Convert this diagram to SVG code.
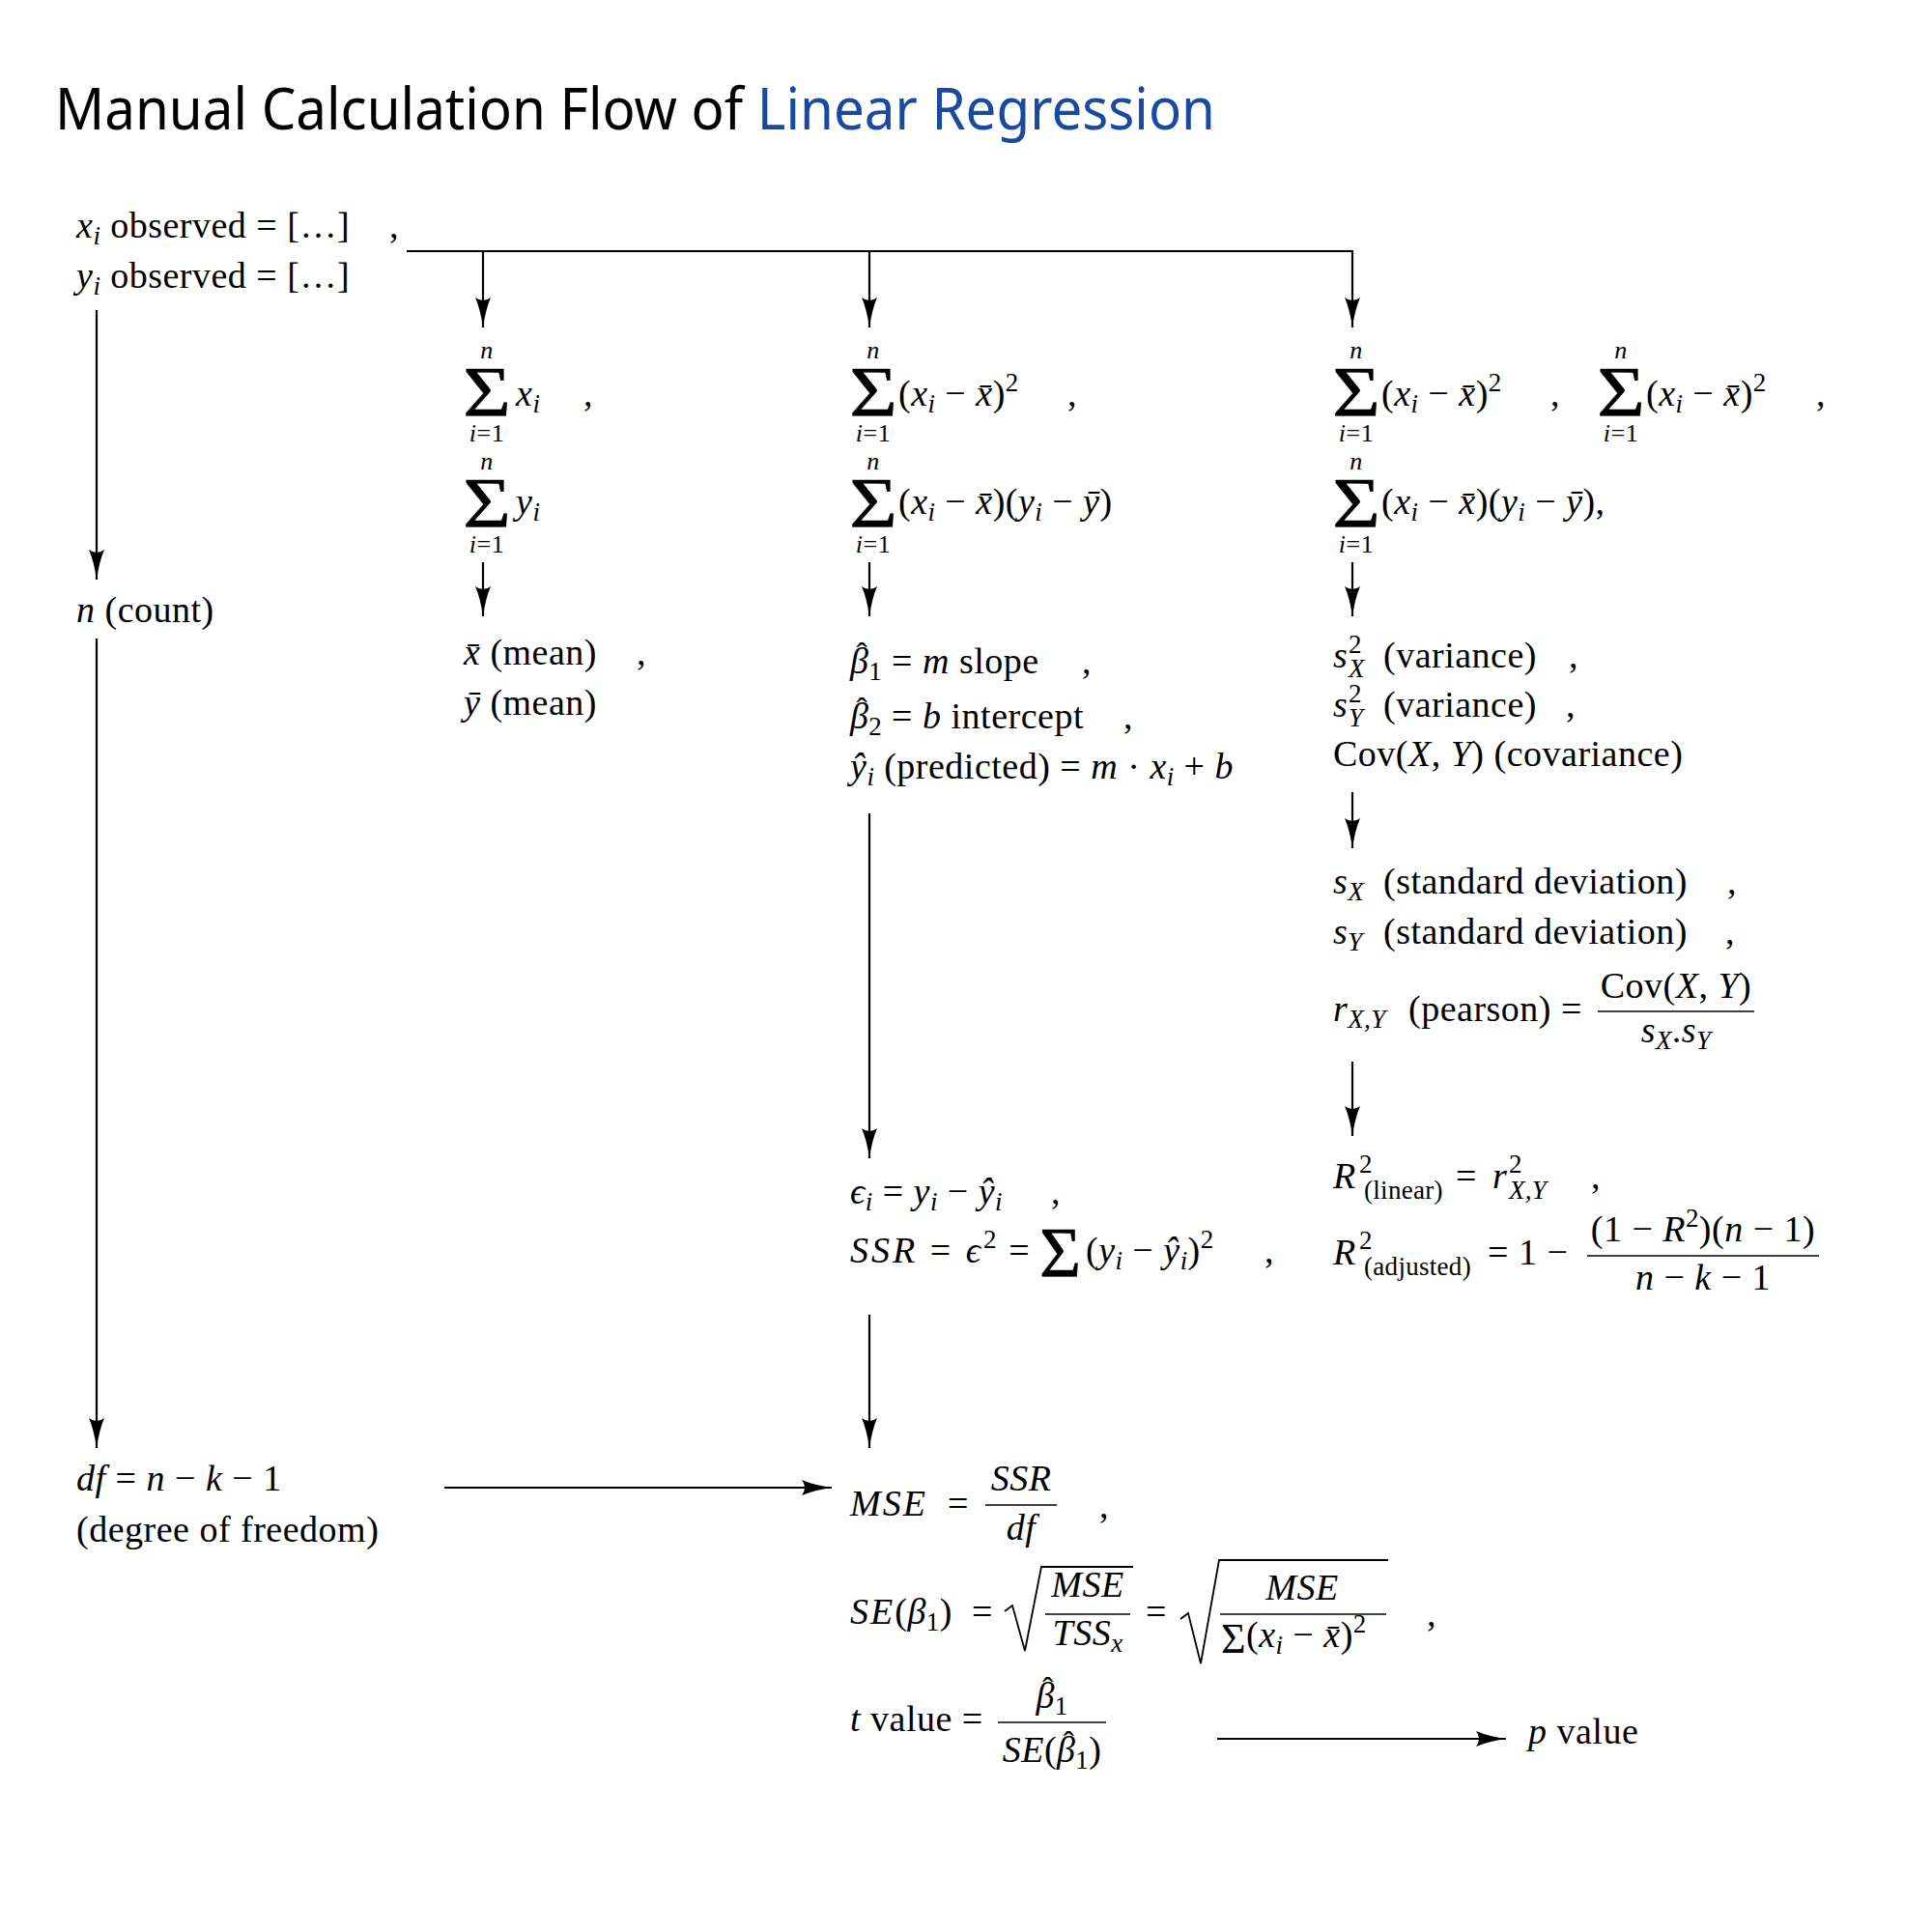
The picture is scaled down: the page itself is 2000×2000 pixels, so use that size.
<svg xmlns="http://www.w3.org/2000/svg" width="2000" height="2000" viewBox="0 0 2000 2000">
<defs>
<style>
.bg{fill:#fff}
.t{font-family:"Liberation Serif","DejaVu Serif",serif;font-size:38px;letter-spacing:0.5px;fill:#000}
.mi{font-style:italic}
.sb{font-size:27px;letter-spacing:0.3px}
.hc{font-size:34px;font-style:normal}
.lim{font-family:"Liberation Serif","DejaVu Serif",serif;font-size:26px;letter-spacing:0.5px;fill:#000}
.big{font-family:"Liberation Serif","DejaVu Serif",serif;font-size:74px;fill:#000;stroke:#000;stroke-width:0.6}
.title{font-family:"Noto Sans","Open Sans",sans-serif;font-size:60px;fill:#000}
.blue{fill:#1a4aa0}
.ln{stroke:#000;stroke-width:2.2;fill:none}
.bar{stroke:#000;stroke-width:1.6;fill:none}
.rad{stroke:#000;stroke-width:1.8;fill:none;stroke-linejoin:miter}
</style>
<marker id="ah" markerWidth="34" markerHeight="20" refX="31" refY="10" orient="auto" markerUnits="userSpaceOnUse">
<path d="M0,2 Q13,7.5 31,10 Q13,12.5 0,18 Q6,10 0,2Z" fill="#000"/>
</marker>
</defs>
<rect class="bg" x="0" y="0" width="2000" height="2000"/>

<g id="title">
<text class="title" x="57" y="134" textLength="1201" lengthAdjust="spacingAndGlyphs">Manual Calculation Flow of <tspan class="blue">Linear Regression</tspan></text>
</g>

<g id="connectors">
<path class="ln" d="M421,260 H1400 V339" marker-end="url(#ah)"/>
<path class="ln" d="M500,260 V339" marker-end="url(#ah)"/>
<path class="ln" d="M900,260 V339" marker-end="url(#ah)"/>
<path class="ln" d="M100,321 V600" marker-end="url(#ah)"/>
<path class="ln" d="M100,661 V1499" marker-end="url(#ah)"/>
<path class="ln" d="M500,582 V638" marker-end="url(#ah)"/>
<path class="ln" d="M900,582 V638" marker-end="url(#ah)"/>
<path class="ln" d="M1400,582 V638" marker-end="url(#ah)"/>
<path class="ln" d="M1400,820 V878" marker-end="url(#ah)"/>
<path class="ln" d="M1400,1099 V1176" marker-end="url(#ah)"/>
<path class="ln" d="M900,842 V1199" marker-end="url(#ah)"/>
<path class="ln" d="M900,1361 V1499" marker-end="url(#ah)"/>
<path class="ln" d="M460,1540 H861" marker-end="url(#ah)"/>
<path class="ln" d="M1260,1800 H1559" marker-end="url(#ah)"/>
</g>

<g id="observed">
<text class="t" x="79" y="246"><tspan class="mi">x</tspan><tspan class="sb mi" dy="7">i</tspan><tspan dy="-7"> observed = […]</tspan></text>
<text class="t" x="403" y="246">,</text>
<text class="t" x="79" y="298"><tspan class="mi">y</tspan><tspan class="sb mi" dy="7">i</tspan><tspan dy="-7"> observed = […]</tspan></text>
</g>

<g id="count">
<text class="t" x="79" y="644"><tspan class="mi">n</tspan> (count)</text>
</g>

<g id="dof">
<text class="t" x="79" y="1543"><tspan class="mi">df</tspan> = <tspan class="mi">n</tspan> − <tspan class="mi">k</tspan> − 1</text>
<text class="t" x="79" y="1596">(degree of freedom)</text>
</g>

<g id="sums">
<text class="lim mi" x="504" y="371" text-anchor="middle">n</text>
<text class="big" transform="translate(504,431) scale(1.15,1)" text-anchor="middle">Σ</text>
<text class="lim" x="504" y="457" text-anchor="middle"><tspan class="mi">i</tspan>=1</text>
<text class="t" x="534" y="420"><tspan class="mi">x</tspan><tspan class="sb mi" dy="7">i</tspan></text>
<text class="t" x="604" y="420">,</text>
<text class="lim mi" x="504" y="486" text-anchor="middle">n</text>
<text class="big" transform="translate(504,546) scale(1.15,1)" text-anchor="middle">Σ</text>
<text class="lim" x="504" y="572" text-anchor="middle"><tspan class="mi">i</tspan>=1</text>
<text class="t" x="534" y="532"><tspan class="mi">y</tspan><tspan class="sb mi" dy="7">i</tspan></text>
</g>

<g id="deviations">
<text class="lim mi" x="904" y="371" text-anchor="middle">n</text>
<text class="big" transform="translate(904,431) scale(1.15,1)" text-anchor="middle">Σ</text>
<text class="lim" x="904" y="457" text-anchor="middle"><tspan class="mi">i</tspan>=1</text>
<text class="t" x="930" y="420">(<tspan class="mi">x</tspan><tspan class="sb mi" dy="7">i</tspan><tspan dy="-7"> − </tspan><tspan class="mi">x&#x304;</tspan>)<tspan class="sb" dy="-15">2</tspan></text>
<text class="t" x="1105" y="420">,</text>
<text class="lim mi" x="904" y="486" text-anchor="middle">n</text>
<text class="big" transform="translate(904,546) scale(1.15,1)" text-anchor="middle">Σ</text>
<text class="lim" x="904" y="572" text-anchor="middle"><tspan class="mi">i</tspan>=1</text>
<text class="t" x="930" y="532">(<tspan class="mi">x</tspan><tspan class="sb mi" dy="7">i</tspan><tspan dy="-7"> − </tspan><tspan class="mi">x&#x304;</tspan>)(<tspan class="mi">y</tspan><tspan class="sb mi" dy="7">i</tspan><tspan dy="-7"> − </tspan><tspan class="mi">y&#x304;</tspan>)</text>
</g>

<g id="deviations-2">
<text class="lim mi" x="1404" y="371" text-anchor="middle">n</text>
<text class="big" transform="translate(1404,431) scale(1.15,1)" text-anchor="middle">Σ</text>
<text class="lim" x="1404" y="457" text-anchor="middle"><tspan class="mi">i</tspan>=1</text>
<text class="t" x="1430" y="420">(<tspan class="mi">x</tspan><tspan class="sb mi" dy="7">i</tspan><tspan dy="-7"> − </tspan><tspan class="mi">x&#x304;</tspan>)<tspan class="sb" dy="-15">2</tspan></text>
<text class="t" x="1605" y="420">,</text>
<text class="lim mi" x="1678" y="371" text-anchor="middle">n</text>
<text class="big" transform="translate(1678,431) scale(1.15,1)" text-anchor="middle">Σ</text>
<text class="lim" x="1678" y="457" text-anchor="middle"><tspan class="mi">i</tspan>=1</text>
<text class="t" x="1704" y="420">(<tspan class="mi">x</tspan><tspan class="sb mi" dy="7">i</tspan><tspan dy="-7"> − </tspan><tspan class="mi">x&#x304;</tspan>)<tspan class="sb" dy="-15">2</tspan></text>
<text class="t" x="1880" y="420">,</text>
<text class="lim mi" x="1404" y="486" text-anchor="middle">n</text>
<text class="big" transform="translate(1404,546) scale(1.15,1)" text-anchor="middle">Σ</text>
<text class="lim" x="1404" y="572" text-anchor="middle"><tspan class="mi">i</tspan>=1</text>
<text class="t" x="1430" y="532">(<tspan class="mi">x</tspan><tspan class="sb mi" dy="7">i</tspan><tspan dy="-7"> − </tspan><tspan class="mi">x&#x304;</tspan>)(<tspan class="mi">y</tspan><tspan class="sb mi" dy="7">i</tspan><tspan dy="-7"> − </tspan><tspan class="mi">y&#x304;</tspan>),</text>
</g>

<g id="means">
<text class="t" x="480" y="688"><tspan class="mi">x&#x304;</tspan> (mean)</text>
<text class="t" x="659" y="688">,</text>
<text class="t" x="480" y="740"><tspan class="mi">y&#x304;</tspan> (mean)</text>
</g>

<g id="coefficients">
<text class="t" x="880" y="697"><tspan class="mi">β</tspan><tspan class="hc" dx="-13" dy="-8">ˆ</tspan><tspan class="sb" dx="1" dy="15">1</tspan><tspan dy="-7"> = </tspan><tspan class="mi">m</tspan> slope</text>
<text class="t" x="1120" y="697">,</text>
<text class="t" x="880" y="754"><tspan class="mi">β</tspan><tspan class="hc" dx="-13" dy="-8">ˆ</tspan><tspan class="sb" dx="1" dy="15">2</tspan><tspan dy="-7"> = </tspan><tspan class="mi">b</tspan> intercept</text>
<text class="t" x="1163" y="754">,</text>
<text class="t" x="880" y="806"><tspan class="mi">ŷ</tspan><tspan class="sb mi" dy="7">i</tspan><tspan dy="-7"> (predicted) = </tspan><tspan class="mi">m</tspan> · <tspan class="mi">x</tspan><tspan class="sb mi" dy="7">i</tspan><tspan dy="-7"> + </tspan><tspan class="mi">b</tspan></text>
</g>

<g id="variance">
<text class="t mi" x="1380" y="691">s</text>
<text class="t sb" x="1396" y="676">2</text>
<text class="t sb mi" x="1396" y="701">X</text>
<text class="t" x="1432" y="691">(variance)</text>
<text class="t" x="1624" y="691">,</text>
<text class="t mi" x="1380" y="742">s</text>
<text class="t sb" x="1396" y="727">2</text>
<text class="t sb mi" x="1396" y="752">Y</text>
<text class="t" x="1432" y="742">(variance)</text>
<text class="t" x="1621" y="742">,</text>
<text class="t" x="1380" y="793">Cov(<tspan class="mi">X</tspan>, <tspan class="mi">Y</tspan>) (covariance)</text>
</g>

<g id="stddev">
<text class="t" x="1380" y="925"><tspan class="mi">s</tspan><tspan class="sb mi" dy="7">X</tspan></text>
<text class="t" x="1432" y="925">(standard deviation)</text>
<text class="t" x="1788" y="925">,</text>
<text class="t" x="1380" y="977"><tspan class="mi">s</tspan><tspan class="sb mi" dy="7">Y</tspan></text>
<text class="t" x="1432" y="977">(standard deviation)</text>
<text class="t" x="1786" y="977">,</text>
<text class="t" x="1380" y="1057"><tspan class="mi">r</tspan><tspan class="sb mi" dy="7">X,Y</tspan><tspan dy="-7" x="1458">(pearson)</tspan><tspan x="1616">=</tspan></text>
<line class="bar" x1="1654" y1="1047" x2="1816" y2="1047"/>
<text class="t" x="1735" y="1033" text-anchor="middle">Cov(<tspan class="mi">X</tspan>, <tspan class="mi">Y</tspan>)</text>
<text class="t" x="1735" y="1079" text-anchor="middle"><tspan class="mi">s</tspan><tspan class="sb mi" dy="7">X</tspan><tspan dy="-7">.</tspan><tspan class="mi">s</tspan><tspan class="sb mi" dy="7">Y</tspan></text>
</g>

<g id="rsquared">
<text class="t mi" x="1380" y="1230">R</text>
<text class="t sb" x="1407" y="1214">2</text>
<text class="t sb" x="1412" y="1241">(linear)</text>
<text class="t" x="1507" y="1230">=</text>
<text class="t mi" x="1545" y="1230">r</text>
<text class="t sb" x="1562" y="1214">2</text>
<text class="t sb mi" x="1562" y="1241">X,Y</text>
<text class="t" x="1647" y="1230">,</text>
<text class="t mi" x="1380" y="1309">R</text>
<text class="t sb" x="1407" y="1293">2</text>
<text class="t sb" x="1412" y="1320">(adjusted)</text>
<text class="t" x="1540" y="1309">= 1 −</text>
<line class="bar" x1="1643" y1="1300" x2="1883" y2="1300"/>
<text class="t" x="1763" y="1285" text-anchor="middle">(1 − <tspan class="mi">R</tspan><tspan class="sb" dy="-15">2</tspan><tspan dy="15">)(</tspan><tspan class="mi">n</tspan> − 1)</text>
<text class="t" x="1763" y="1335" text-anchor="middle"><tspan class="mi">n</tspan> − <tspan class="mi">k</tspan> − 1</text>
</g>

<g id="residuals">
<text class="t" x="880" y="1246"><tspan class="mi">ϵ</tspan><tspan class="sb mi" dy="7">i</tspan><tspan dy="-7"> = </tspan><tspan class="mi">y</tspan><tspan class="sb mi" dy="7">i</tspan><tspan dy="-7"> − </tspan><tspan class="mi">ŷ</tspan><tspan class="sb mi" dy="7">i</tspan></text>
<text class="t" x="1088" y="1246">,</text>
<text class="t" x="880" y="1307" style="letter-spacing:3px"><tspan class="mi">SSR</tspan> = <tspan class="mi">ϵ</tspan><tspan class="sb" dy="-15">2</tspan><tspan dy="15"> =</tspan></text>
<text class="big" x="1076" y="1322">Σ</text>
<text class="t" x="1124" y="1307">(<tspan class="mi">y</tspan><tspan class="sb mi" dy="7">i</tspan><tspan dy="-7"> − </tspan><tspan class="mi">ŷ</tspan><tspan class="sb mi" dy="7">i</tspan><tspan dy="-7">)</tspan><tspan class="sb" dy="-15">2</tspan></text>
<text class="t" x="1309" y="1307">,</text>
</g>

<g id="mse">
<text class="t" x="880" y="1569"><tspan class="mi" style="letter-spacing:2px">MSE</tspan><tspan x="981">=</tspan></text>
<line class="bar" x1="1020" y1="1558" x2="1094" y2="1558"/>
<text class="t mi" x="1057" y="1543" text-anchor="middle">SSR</text>
<text class="t mi" x="1057" y="1594" text-anchor="middle">df</text>
<text class="t" x="1138" y="1571">,</text>
</g>

<g id="se">
<text class="t" x="880" y="1681"><tspan class="mi" style="letter-spacing:2px">SE</tspan>(<tspan class="mi">β</tspan><tspan class="sb" dy="7">1</tspan><tspan dy="-7">)</tspan><tspan x="1006">=</tspan></text>
<path class="rad" d="M1040,1668 L1048,1662 L1061,1709 L1078,1622 H1173"/>
<line class="bar" x1="1082" y1="1671" x2="1170" y2="1671"/>
<text class="t mi" x="1126" y="1653" text-anchor="middle">MSE</text>
<text class="t" x="1126" y="1703" text-anchor="middle"><tspan class="mi">TSS</tspan><tspan class="sb mi" dy="7">x</tspan></text>
<text class="t" x="1186" y="1681">=</text>
<path class="rad" d="M1222,1676 L1230,1670 L1243,1722 L1262,1615 H1437"/>
<line class="bar" x1="1263" y1="1671" x2="1435" y2="1671"/>
<text class="t mi" x="1348" y="1656" text-anchor="middle">MSE</text>
<text class="t" x="1264" y="1711" style="font-size:44px">Σ</text>
<text class="t" x="1290" y="1705">(<tspan class="mi">x</tspan><tspan class="sb mi" dy="7">i</tspan><tspan dy="-7"> − </tspan><tspan class="mi">x&#x304;</tspan>)<tspan class="sb" dy="-15">2</tspan></text>
<text class="t" x="1477" y="1683">,</text>
</g>

<g id="tvalue">
<text class="t" x="880" y="1792"><tspan class="mi">t</tspan> value =</text>
<line class="bar" x1="1033" y1="1783" x2="1145" y2="1783"/>
<text class="t" x="1089" y="1768" text-anchor="middle"><tspan class="mi">β</tspan><tspan class="hc" dx="-13" dy="-8">ˆ</tspan><tspan class="sb" dx="1" dy="15">1</tspan></text>
<text class="t" x="1089" y="1824" text-anchor="middle"><tspan class="mi">SE</tspan>(<tspan class="mi">β</tspan><tspan class="hc" dx="-13" dy="-8">ˆ</tspan><tspan class="sb" dx="1" dy="15">1</tspan><tspan dy="-7">)</tspan></text>
</g>

<g id="pvalue">
<text class="t" x="1582" y="1805"><tspan class="mi">p</tspan> value</text>
</g>
</svg>
